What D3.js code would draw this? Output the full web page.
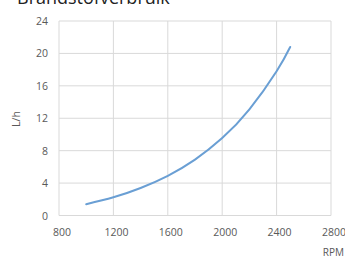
<!DOCTYPE html>
<html><head><meta charset="utf-8">
<script src="https://cdn.jsdelivr.net/npm/d3@7"></script>
<style>body{margin:0;background:#fff}svg{display:block}</style>
</head><body>
<script>
const title = "Brandstofverbruik";
const rpm = [1000,1200,1400,1600,1800,2000,2200,2400,2500];
const fuel = [1.4,2.25,3.4,4.9,6.9,9.55,13.1,17.8,20.8];
const xTicks = [800,1200,1600,2000,2400,2800];
const yTicks = [0,4,8,12,16,20,24];
const xLabel = "RPM", yLabel = "L/h";

const W=345,H=260;
const svg=d3.select("body").append("svg").attr("width",W).attr("height",H);
const x=d3.scaleLinear().domain([800,2800]).range([59,331]);
const y=d3.scaleLinear().domain([0,24]).range([215.5,21]);
const font="'Open Sans', sans-serif";

svg.append("text").attr("x",17).attr("y",4).attr("font-family",font).attr("font-size",18)
  .attr("fill","#222").text(title);

const g=svg.append("g");
g.selectAll(".hg").data(yTicks).join("line").attr("x1",x(800)).attr("x2",x(2800))
  .attr("y1",d=>y(d)).attr("y2",d=>y(d)).attr("stroke","#d9d9d9").attr("stroke-width",1);
g.selectAll(".vg").data(xTicks).join("line").attr("y1",y(0)).attr("y2",y(24))
  .attr("x1",d=>x(d)).attr("x2",d=>x(d)).attr("stroke","#d9d9d9").attr("stroke-width",1);

svg.selectAll(".yl").data(yTicks).join("text").attr("x",48).attr("y",d=>y(d)+4)
  .attr("text-anchor","end").attr("font-family",font).attr("font-size",10.5).attr("fill","#595959").text(d=>d);
svg.selectAll(".xl").data(xTicks).join("text").attr("x",d=>x(d)+3).attr("y",235.5)
  .attr("text-anchor","middle").attr("font-family",font).attr("font-size",10.5).attr("fill","#595959").text(d=>d);

svg.append("text").attr("x",344).attr("y",256).attr("text-anchor","end").attr("font-family",font)
  .attr("font-size",10).attr("fill","#595959").text(xLabel);
svg.append("text").attr("transform","translate(20,119) rotate(-90)").attr("text-anchor","middle")
  .attr("font-family",font).attr("font-size",10.5).attr("fill","#595959").text(yLabel);

const line=d3.line().x((d,i)=>x(rpm[i])).y(d=>y(d)).curve(d3.curveNatural);
svg.append("path").datum(fuel).attr("d",line).attr("fill","none").attr("stroke","#6a9fd4")
  .attr("stroke-width",2).attr("stroke-linecap","round");
</script>
</body></html>
